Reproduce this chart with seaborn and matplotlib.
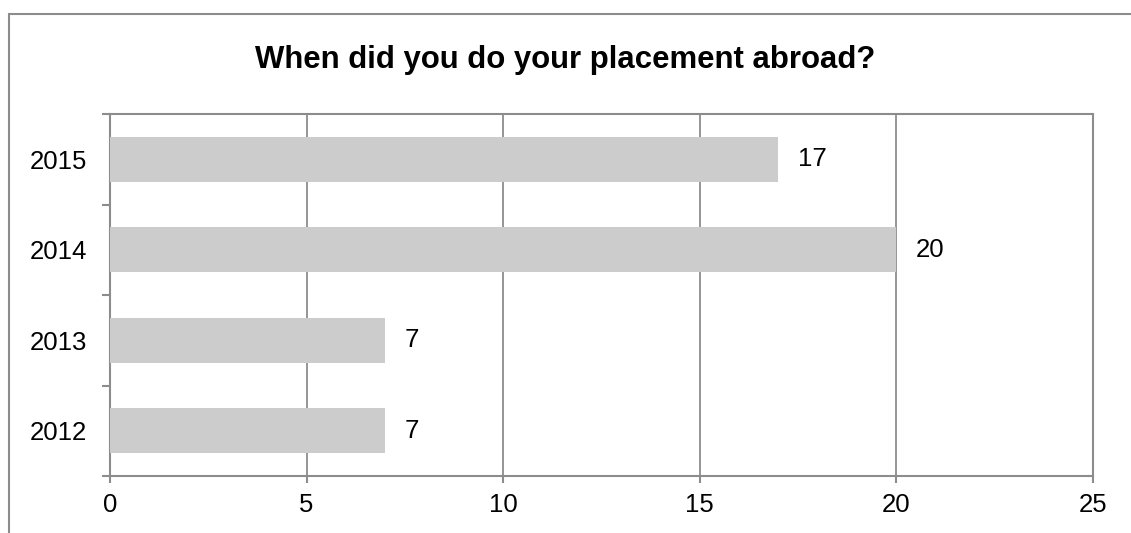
import matplotlib.pyplot as plt
import matplotlib.patches as patches
import seaborn as sns
import pandas as pd

# data
years = ['2015', '2014', '2013', '2012']
counts = [17, 20, 7, 7]
x_ticks = [0, 5, 10, 15, 20, 25]

sns.set_style('white')
plt.rcParams['font.family'] = ['Liberation Sans', 'DejaVu Sans']
plt.rcParams['text.color'] = 'black'
plt.rcParams['xtick.color'] = 'black'
plt.rcParams['ytick.color'] = 'black'

df = pd.DataFrame({'Year': years, 'Count': counts})

fig = plt.figure(figsize=(11.31, 5.33), dpi=100)
ax = fig.add_axes([110 / 1131, 1 - 476 / 533, (1093 - 110) / 1131, (476 - 114) / 533])

sns.barplot(x='Count', y='Year', data=df, order=years, orient='h',
            color='#cccccc', width=0.5, saturation=1, linewidth=0, ax=ax, zorder=3)

grey = '#8c8c8c'
ax.set_xlim(0, 25)
ax.set_ylim(3.5, -0.5)
ax.set_xticks(x_ticks)
ax.grid(axis='x', color=grey, linewidth=1.3, zorder=0)
ax.set_axisbelow(True)

for s in ax.spines.values():
    s.set_visible(True)
    s.set_color(grey)
    s.set_linewidth(1.5)

# category separators as ticks on the y axis
ax.set_yticks([-0.5, 0.5, 1.5, 2.5, 3.5], minor=True)
ax.tick_params(axis='y', which='major', length=0, pad=16.5, labelsize=18.5)
ax.tick_params(axis='y', which='minor', left=True, length=6, color=grey, width=1.5)
ax.tick_params(axis='x', which='major', bottom=True, length=5, color=grey, width=1.5,
               labelsize=18.5, pad=7)
ax.set_xlabel('')
ax.set_ylabel('')

for i, v in enumerate(counts):
    ax.text(v + 0.5, i, str(v), va='center', ha='left', fontsize=18.5)

fig.text(0.5, 1 - 60 / 533, 'When did you do your placement abroad?',
         ha='center', va='center', fontsize=22.4, fontweight='bold')

# outer chart frame (cut off at right and bottom)
fig.patches.append(patches.Rectangle((8.5 / 1131, -0.2), 2, 1 - 13.5 / 533 + 0.2,
                                     transform=fig.transFigure, fill=False,
                                     edgecolor=grey, linewidth=1.5))

plt.savefig('out.png', dpi=100)
